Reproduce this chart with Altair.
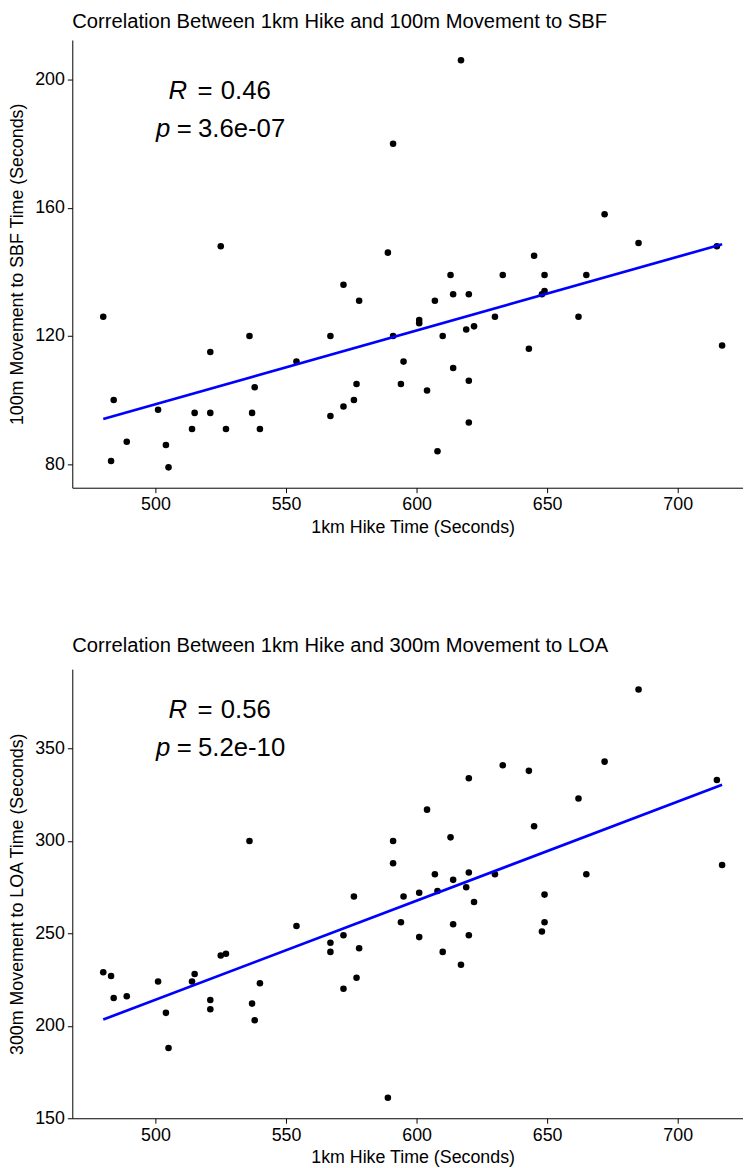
import altair as alt
import pandas as pd

FONT = "Liberation Sans"

# 1km hike time (seconds), shared by both panels
hike = [480, 483, 484, 489, 501, 504, 505, 514, 515, 521, 521, 525, 527, 536, 537, 538, 540, 554,
        567, 567, 572, 572, 576, 577, 578, 589, 591, 591, 594, 595, 601, 601, 604, 607, 608, 610,
        613, 614, 614, 617, 619, 620, 620, 620, 622, 630, 633, 643, 645, 648, 649, 649, 662, 665,
        672, 685, 715, 717]
# 100m movement to SBF time (seconds)
sbf = [126, 81, 100, 87, 97, 86, 79, 91, 96, 115, 96, 148, 91, 120, 96, 104, 91, 112,
       120, 95, 136, 98, 100, 105, 131, 146, 180, 120, 105, 112, 125, 124, 103, 131, 84, 120,
       139, 133, 110, 206, 122, 133, 106, 93, 123, 126, 139, 116, 145, 133, 139, 134, 126, 139,
       158, 149, 148, 117]
# 300m movement to LOA time (seconds)
loa = [229, 227, 215, 216, 224, 207, 188, 224, 228, 214, 209, 238, 239, 300, 212, 203, 223, 254,
       245, 240, 249, 220, 270, 226, 242, 161, 300, 288, 256, 270, 272, 248, 317, 282, 273, 240,
       302, 279, 255, 233, 275, 334, 283, 249, 267, 282, 341, 338, 308, 251, 271, 256, 323, 282,
       343, 382, 333, 287]

x_ticks = [500, 550, 600, 650, 700]
sbf_ticks = [80, 120, 160, 200]
loa_ticks = [150, 200, 250, 300, 350]

titles = ["Correlation Between 1km Hike and 100m Movement to SBF",
          "Correlation Between 1km Hike and 300m Movement to LOA"]
y_titles = ["100m Movement to SBF Time (Seconds)", "300m Movement to LOA Time (Seconds)"]
r_labels = ["0.46", "0.56"]
p_labels = ["3.6e-07", "5.2e-10"]
label_x = 525
r_label_y = [193.8, 366.4]
p_label_y = [182.0, 345.9]

df = pd.DataFrame({"hike": hike, "sbf": sbf, "loa": loa})


def text_piece(txt, xv, yv, dx, align, italic=False):
    return alt.Chart(pd.DataFrame({"x": [xv], "y": [yv], "t": [txt]})).mark_text(
        font=FONT, fontSize=26, color="black", align=align, baseline="alphabetic",
        dx=dx, fontStyle="italic" if italic else "normal"
    ).encode(x="x:Q", y="y:Q", text="t:N")


def panel(i, ycol, ydomain, yticks, h, title_offset):
    xenc = alt.X("hike:Q", scale=alt.Scale(domain=[468.15, 725], nice=False, zero=False),
                 axis=alt.Axis(values=x_ticks, title="1km Hike Time (Seconds)", titleX=344,
                               titleAlign="center"))
    yenc = alt.Y(f"{ycol}:Q", scale=alt.Scale(domain=ydomain, nice=False, zero=False),
                 axis=alt.Axis(values=yticks, title=y_titles[i]))
    base = alt.Chart(df)
    pts = base.mark_circle(size=44, color="black", opacity=1).encode(x=xenc, y=yenc)
    line = base.transform_regression("hike", ycol).mark_line(
        color="#0000FF", strokeWidth=2.7).encode(x="hike:Q", y=f"{ycol}:Q")
    labels = [
        text_piece("R", label_x, r_label_y[i], -34, "right", True),
        text_piece("=", label_x, r_label_y[i], -16, "center"),
        text_piece(r_labels[i], label_x, r_label_y[i], 0, "left"),
        text_piece("p", label_x, p_label_y[i], -51, "right", True),
        text_piece("=", label_x, p_label_y[i], -37, "center"),
        text_piece(p_labels[i], label_x, p_label_y[i], -23, "left"),
    ]
    return alt.layer(pts, line, *labels).properties(
        width=678, height=h,
        title=alt.TitleParams(titles[i], anchor="start", frame="group", fontSize=20.4,
                              font=FONT, fontWeight="normal", color="black",
                              offset=title_offset),
    )


top = panel(0, "sbf", [72.65, 212.35], sbf_ticks, 452.6, 8)
bottom = panel(1, "loa", [149.95, 393.05], loa_ticks, 454, 13)

chart = alt.vconcat(
    top, bottom, spacing=100, background="white",
    padding={"top": -3, "left": 0, "right": 0, "bottom": 0}
).configure_view(
    stroke=None
).configure_axis(
    grid=False, domainColor="black", tickColor="black", labelColor="black", titleColor="black",
    labelFont=FONT, titleFont=FONT, labelFontSize=18, titleFontSize=18, titleFontWeight="normal",
    tickSize=5, labelPadding=3, domainWidth=1, tickWidth=1
).configure_axisY(titlePadding=8).configure_axisX(titlePadding=5)

chart.save("out.html", embed_options={"renderer": "svg", "actions": False})
